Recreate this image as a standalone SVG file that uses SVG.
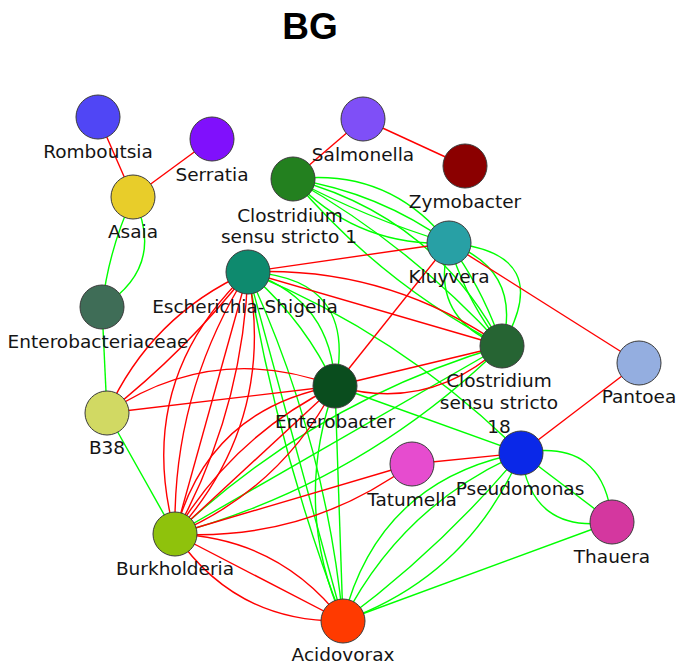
<svg xmlns="http://www.w3.org/2000/svg" width="679" height="670" viewBox="0 0 679 670">
  <style>
    .bg { fill: #ffffff; }
    .title { font-family: "Liberation Sans", Arial, sans-serif; font-weight: bold; font-size: 37px; fill: #000; text-anchor: middle; }
    .e { fill: none; stroke-width: 1.4; }
    .r { stroke: #ff0000; }
    .g { stroke: #00ff00; }
    .n circle { stroke: #3a3a3a; stroke-width: 1; }
    .n text { font-family: "DejaVu Sans", "Noto Sans", sans-serif; font-size: 18.5px; fill: #141414; text-anchor: middle; }
  </style>
  <rect class="bg" width="679" height="670"/>
  <text class="title" x="310" y="39">BG</text>

  <g id="edges">
    <!-- positive associations -->
    <g class="e g">
      <path d="M133 197 Q167 266 102 307"/>
      <path d="M133 197 Q108.7 249.5 102 307"/>
      <path d="M102 307 L107 413"/>
      <path d="M107 413 L175 534"/>
      <!-- Clostridium sensu stricto 1 - Kluyvera -->
      <path d="M293 179 Q388.9 167.3 449 243"/>
      <path d="M293 179 Q378.7 192.3 449 243"/>
      <path d="M293 179 Q367.8 218.8 449 243"/>
      <path d="M293 179 Q356.3 246.9 449 243"/>
      <!-- Clostridium sensu stricto 1 - Clostridium sensu stricto 18 -->
      <path d="M293 179 Q434.2 216.5 502 346"/>
      <path d="M293 179 Q410.9 245.8 502 346"/>
      <path d="M293 179 Q380.8 283.4 502 346"/>
      <!-- Kluyvera - Clostridium sensu stricto 18 -->
      <path d="M449 243 Q556.9 252.6 502 346"/>
      <path d="M449 243 Q522.9 270.1 502 346"/>
      <path d="M449 243 Q483.7 290.3 502 346"/>
      <path d="M449 243 Q465.2 299.8 502 346"/>
      <path d="M449 243 Q428.1 318.9 502 346"/>
      <!-- Pseudomonas - Thauera -->
      <path d="M521 453 Q604.5 437.4 612 522"/>
      <path d="M521 453 L612 522"/>
      <path d="M521 453 Q530.6 534.8 612 522"/>
      <path d="M612 522 L343 621"/>
      <!-- Pseudomonas - Acidovorax -->
      <path d="M521 453 Q378.2 480 343 621"/>
      <path d="M521 453 Q401.8 505 343 621"/>
      <path d="M521 453 Q442 547.7 343 621"/>
      <path d="M521 453 Q469 576 343 621"/>
      <!-- Escherichia-Shigella - Enterobacter -->
      <path d="M248 272 Q358.8 277.7 335 386"/>
      <path d="M248 272 Q331.4 298.6 335 386"/>
      <path d="M248 272 Q304 319.4 335 386"/>
      <!-- Escherichia-Shigella - Acidovorax -->
      <path d="M248 272 L343 621"/>
      <path d="M248 272 Q325.2 438.4 343 621"/>
      <path d="M248 272 Q278 451.3 343 621"/>
      <!-- Enterobacter - Acidovorax -->
      <path d="M335 386 Q292 505.1 343 621"/>
      <path d="M335 386 L343 621"/>
      <!-- to Pseudomonas -->
      <path d="M248 272 Q402.6 335.2 521 453"/>
      <path d="M335 386 L521 453"/>
      <!-- Clostridium sensu stricto 18 - Burkholderia -->
      <path d="M502 346 Q315.9 400.8 175 534"/>
      <path d="M502 346 L175 534"/>
      <path d="M502 346 Q362.9 482.5 175 534"/>
    </g>

    <!-- negative associations -->
    <g class="e r">
      <path d="M98 117 L133 197"/>
      <path d="M212 139 L133 197"/>
      <path d="M363 119 L293 179"/>
      <path d="M363 119 L465 166"/>
      <path d="M449 243 L639 363"/>
      <path d="M639 363 L521 453"/>
      <path d="M335 386 L449 243"/>
      <path d="M412 464 L521 453"/>
      <path d="M248 272 L449 243"/>
      <!-- Escherichia-Shigella - Clostridium sensu stricto 18 -->
      <path d="M248 272 L502 346"/>
      <path d="M248 272 Q387.6 265.8 502 346"/>
      <!-- Enterobacter - Clostridium sensu stricto 18 -->
      <path d="M335 386 L502 346"/>
      <path d="M335 386 Q429.7 412.8 502 346"/>
      <!-- Enterobacter - B38 -->
      <path d="M335 386 Q214.1 340.9 107 413"/>
      <path d="M335 386 L107 413"/>
      <!-- Escherichia-Shigella - B38 -->
      <path d="M248 272 Q150.7 315.7 107 413"/>
      <path d="M248 272 Q186 351 107 413"/>
      <!-- Escherichia-Shigella - Burkholderia -->
      <path d="M248 272 Q132.9 381.1 175 534"/>
      <path d="M248 272 Q172.2 392 175 534"/>
      <path d="M248 272 L175 534"/>
      <path d="M248 272 Q242.9 411.8 175 534"/>
      <path d="M248 272 Q277 421.3 175 534"/>
      <!-- Enterobacter - Burkholderia -->
      <path d="M335 386 Q207.6 408.8 175 534"/>
      <path d="M335 386 Q232.8 436 175 534"/>
      <path d="M335 386 L175 534"/>
      <path d="M335 386 Q281.6 488.8 175 534"/>
      <!-- Burkholderia - Tatumella -->
      <path d="M175 534 L412 464"/>
      <path d="M175 534 Q306.1 541.7 412 464"/>
      <!-- Burkholderia - Acidovorax -->
      <path d="M175 534 Q279.4 538 343 621"/>
      <path d="M175 534 L343 621"/>
      <path d="M175 534 Q235.5 622.9 343 621"/>
    </g>
  </g>

  <g id="nodes">
    <g class="n" id="romboutsia"><circle cx="98" cy="117" r="22" fill="#5046f5"/><text x="98" y="158">Romboutsia</text></g>
    <g class="n" id="serratia"><circle cx="212" cy="139" r="22" fill="#8010fc"/><text x="212" y="181">Serratia</text></g>
    <g class="n" id="asaia"><circle cx="133" cy="197" r="22" fill="#e8cd2a"/><text x="133" y="238">Asaia</text></g>
    <g class="n" id="clostridium-ss1"><circle cx="293" cy="179" r="22" fill="#23801f"/><text x="290" y="222">Clostridium</text><text x="289" y="243">sensu stricto 1</text></g>
    <g class="n" id="salmonella"><circle cx="363" cy="119" r="22" fill="#7f4ff7"/><text x="363" y="161">Salmonella</text></g>
    <g class="n" id="zymobacter"><circle cx="465" cy="166" r="22" fill="#8b0000"/><text x="465" y="208">Zymobacter</text></g>
    <g class="n" id="kluyvera"><circle cx="449" cy="243" r="22" fill="#28a0a5"/><text x="449" y="283">Kluyvera</text></g>
    <g class="n" id="escherichia-shigella"><circle cx="248" cy="272" r="22" fill="#0e8a6e"/><text x="245" y="313">Escherichia-Shigella</text></g>
    <g class="n" id="enterobacteriaceae"><circle cx="102" cy="307" r="22" fill="#3f6d57"/><text x="98" y="348">Enterobacteriaceae</text></g>
    <g class="n" id="clostridium-ss18"><circle cx="502" cy="346" r="22" fill="#266433"/><text x="499" y="387">Clostridium</text><text x="499" y="409">sensu stricto</text><text x="499" y="433">18</text></g>
    <g class="n" id="pantoea"><circle cx="639" cy="363" r="22" fill="#94aee0"/><text x="639" y="403">Pantoea</text></g>
    <g class="n" id="enterobacter"><circle cx="335" cy="386" r="22" fill="#0a4d1e"/><text x="335" y="428">Enterobacter</text></g>
    <g class="n" id="b38"><circle cx="107" cy="413" r="22" fill="#d1d963"/><text x="107" y="454">B38</text></g>
    <g class="n" id="tatumella"><circle cx="412" cy="464" r="22" fill="#e64ccf"/><text x="412" y="506">Tatumella</text></g>
    <g class="n" id="pseudomonas"><circle cx="521" cy="453" r="22" fill="#0a28e8"/><text x="520" y="495">Pseudomonas</text></g>
    <g class="n" id="thauera"><circle cx="612" cy="522" r="22" fill="#d4379f"/><text x="612" y="563">Thauera</text></g>
    <g class="n" id="burkholderia"><circle cx="175" cy="534" r="22" fill="#8fc20c"/><text x="175" y="575">Burkholderia</text></g>
    <g class="n" id="acidovorax"><circle cx="343" cy="621" r="22" fill="#ff3a00"/><text x="343" y="661">Acidovorax</text></g>
  </g>
</svg>
